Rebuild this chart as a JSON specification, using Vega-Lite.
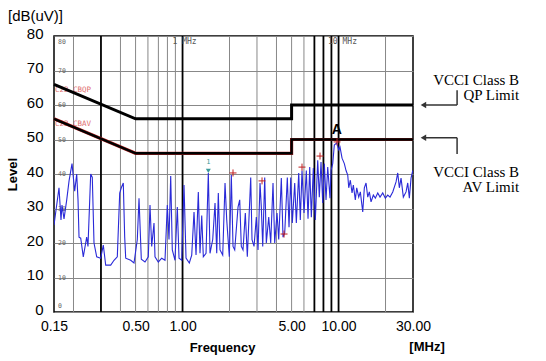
{
  "$schema": "https://vega.github.io/schema/vega-lite/v6.json",
  "width": 359,
  "height": 276,
  "autosize": {"type": "none"},
  "padding": {"left": 54, "top": 36, "right": 133, "bottom": 49},
  "background": "white",
  "title": {"text": "[dB(uV)]", "anchor": "start", "frame": "group", "dx": -46, "offset": 2, "fontSize": 15, "fontWeight": "normal", "font": "Liberation Sans", "color": "black"},
  "config": {"view": {"stroke": "black", "strokeWidth": 1.5}, "font": "Liberation Sans", "axisY": {"labelOverlap": false, "tickCount": 9}},
  "datasets": {
    "vgrid": [{"f": 0.2}, {"f": 0.4}, {"f": 0.5}, {"f": 0.6}, {"f": 0.7}, {"f": 0.8}, {"f": 0.9}, {"f": 2}, {"f": 3}, {"f": 4}, {"f": 5}, {"f": 6}, {"f": 20}],
    "vmark": [{"f": 0.3}, {"f": 1}, {"f": 7}, {"f": 8}, {"f": 9}, {"f": 10}],
    "limits": [
      {"lim": "QP", "i": 1, "f": 0.15, "v": 66}, {"lim": "QP", "i": 2, "f": 0.5, "v": 56}, {"lim": "QP", "i": 3, "f": 5, "v": 56}, {"lim": "QP", "i": 4, "f": 5, "v": 60}, {"lim": "QP", "i": 5, "f": 30, "v": 60},
      {"lim": "AV", "i": 1, "f": 0.15, "v": 56}, {"lim": "AV", "i": 2, "f": 0.5, "v": 46}, {"lim": "AV", "i": 3, "f": 5, "v": 46}, {"lim": "AV", "i": 4, "f": 5, "v": 50}, {"lim": "AV", "i": 5, "f": 30, "v": 50}
    ],
    "trace": [
      {"f": 0.150, "v": 25.2}, {"f": 0.1615, "v": 36}, {"f": 0.1663, "v": 26.7}, {"f": 0.1688, "v": 31}, {"f": 0.1739, "v": 27}, {"f": 0.1810, "v": 32.5}, {"f": 0.1873, "v": 38}, {"f": 0.1957, "v": 43}, {"f": 0.2036, "v": 35}, {"f": 0.2097, "v": 40}, {"f": 0.2138, "v": 32.5}, {"f": 0.2170, "v": 21.7}, {"f": 0.2225, "v": 21.4}, {"f": 0.2311, "v": 16}, {"f": 0.2430, "v": 21.7}, {"f": 0.2477, "v": 19}, {"f": 0.2578, "v": 40}, {"f": 0.2640, "v": 39}, {"f": 0.2707, "v": 20}, {"f": 0.2817, "v": 16}, {"f": 0.2988, "v": 15.6}, {"f": 0.3105, "v": 19.4}, {"f": 0.3217, "v": 13.6}, {"f": 0.3464, "v": 13.6}, {"f": 0.3636, "v": 15}, {"f": 0.3818, "v": 16}, {"f": 0.3956, "v": 34.5}, {"f": 0.4050, "v": 36}, {"f": 0.4171, "v": 37.4}, {"f": 0.4258, "v": 21.7}, {"f": 0.4322, "v": 15.6}, {"f": 0.4653, "v": 15}, {"f": 0.4885, "v": 14.2}, {"f": 0.5129, "v": 21}, {"f": 0.5260, "v": 33}, {"f": 0.5441, "v": 15.3}, {"f": 0.5746, "v": 14.5}, {"f": 0.6033, "v": 16}, {"f": 0.6186, "v": 31}, {"f": 0.6343, "v": 19}, {"f": 0.6562, "v": 25.8}, {"f": 0.6659, "v": 16}, {"f": 0.6993, "v": 14.5}, {"f": 0.7353, "v": 15.6}, {"f": 0.7718, "v": 15}, {"f": 0.7986, "v": 31}, {"f": 0.8189, "v": 21}, {"f": 0.8397, "v": 39.4}, {"f": 0.8597, "v": 18}, {"f": 0.8947, "v": 15}, {"f": 0.9258, "v": 30.4}, {"f": 0.9493, "v": 15.6}, {"f": 0.9879, "v": 15}, {"f": 1.0219, "v": 36.8}, {"f": 1.0527, "v": 15.6}, {"f": 1.1051, "v": 14.2}, {"f": 1.1451, "v": 16.5}, {"f": 1.1845, "v": 29}, {"f": 1.2202, "v": 16.5}, {"f": 1.2622, "v": 34.8}, {"f": 1.2942, "v": 17}, {"f": 1.3272, "v": 28}, {"f": 1.3590, "v": 16}, {"f": 1.4142, "v": 17}, {"f": 1.4629, "v": 40.3}, {"f": 1.5000, "v": 17}, {"f": 1.5610, "v": 21}, {"f": 1.6151, "v": 31.6}, {"f": 1.6561, "v": 17}, {"f": 1.6954, "v": 34.5}, {"f": 1.7385, "v": 18}, {"f": 1.8092, "v": 16.5}, {"f": 1.8720, "v": 37.4}, {"f": 1.9195, "v": 26.7}, {"f": 1.9943, "v": 16}, {"f": 2.0540, "v": 39.7}, {"f": 2.1063, "v": 19}, {"f": 2.1598, "v": 18}, {"f": 2.2677, "v": 30.4}, {"f": 2.3253, "v": 32.5}, {"f": 2.3805, "v": 19}, {"f": 2.4410, "v": 18}, {"f": 2.5256, "v": 28.7}, {"f": 2.6012, "v": 16}, {"f": 2.7353, "v": 39}, {"f": 2.7881, "v": 21}, {"f": 2.8722, "v": 19}, {"f": 2.9711, "v": 27.5}, {"f": 3.0466, "v": 18}, {"f": 3.1377, "v": 37.4}, {"f": 3.1982, "v": 30.4}, {"f": 3.2652, "v": 19}, {"f": 3.3628, "v": 39}, {"f": 3.4435, "v": 20}, {"f": 3.5677, "v": 27.5}, {"f": 3.6743, "v": 20}, {"f": 3.8007, "v": 37.4}, {"f": 3.8972, "v": 20}, {"f": 4.0323, "v": 28.7}, {"f": 4.1347, "v": 21}, {"f": 4.2968, "v": 38.8}, {"f": 4.4055, "v": 21.7}, {"f": 4.5174, "v": 22.9}, {"f": 4.6943, "v": 39}, {"f": 4.8135, "v": 24.6}, {"f": 4.9357, "v": 39}, {"f": 5.0541, "v": 25.8}, {"f": 5.2360, "v": 37.4}, {"f": 5.3617, "v": 25.8}, {"f": 5.5550, "v": 40.3}, {"f": 5.6870, "v": 26.7}, {"f": 5.8315, "v": 41}, {"f": 6.0072, "v": 28.7}, {"f": 6.2139, "v": 41}, {"f": 6.3720, "v": 27}, {"f": 6.5337, "v": 42}, {"f": 6.6904, "v": 27.5}, {"f": 6.8904, "v": 41.7}, {"f": 7.0964, "v": 26.7}, {"f": 7.3527, "v": 44}, {"f": 7.5273, "v": 33.3}, {"f": 7.7185, "v": 43.5}, {"f": 7.9145, "v": 31.6}, {"f": 8.1045, "v": 43}, {"f": 8.3104, "v": 32.5}, {"f": 8.5219, "v": 42}, {"f": 8.8152, "v": 33}, {"f": 8.9462, "v": 41}, {"f": 9.1734, "v": 43}, {"f": 9.3934, "v": 48.4}, {"f": 9.7342, "v": 49}, {"f": 10.025, "v": 47}, {"f": 10.219, "v": 47.8}, {"f": 10.527, "v": 44.6}, {"f": 10.889, "v": 43}, {"f": 11.166, "v": 41}, {"f": 11.450, "v": 39.7}, {"f": 11.620, "v": 36}, {"f": 11.898, "v": 38.2}, {"f": 12.202, "v": 34.5}, {"f": 12.436, "v": 36.8}, {"f": 12.808, "v": 32.5}, {"f": 13.076, "v": 36}, {"f": 13.468, "v": 33.3}, {"f": 13.791, "v": 34.8}, {"f": 14.286, "v": 29}, {"f": 14.629, "v": 36}, {"f": 15.000, "v": 37.4}, {"f": 15.381, "v": 33.3}, {"f": 15.750, "v": 34.8}, {"f": 16.151, "v": 31.9}, {"f": 16.707, "v": 33.9}, {"f": 17.207, "v": 33}, {"f": 17.829, "v": 34.5}, {"f": 18.443, "v": 33.3}, {"f": 19.195, "v": 34.5}, {"f": 19.944, "v": 33}, {"f": 20.665, "v": 33.9}, {"f": 21.376, "v": 33.3}, {"f": 22.250, "v": 34.8}, {"f": 23.357, "v": 37.7}, {"f": 23.951, "v": 40.3}, {"f": 24.525, "v": 36}, {"f": 25.148, "v": 38.8}, {"f": 26.015, "v": 33.3}, {"f": 27.072, "v": 34.8}, {"f": 27.758, "v": 37.4}, {"f": 28.424, "v": 33}, {"f": 29.147, "v": 38.8}, {"f": 29.887, "v": 41}
    ],
    "peaks": [{"f": 2.106, "v": 40.3}, {"f": 3.232, "v": 38}, {"f": 4.472, "v": 22.6}, {"f": 5.83, "v": 42}, {"f": 7.606, "v": 45.2}, {"f": 9.777, "v": 49.3}],
    "lv": [{"f": 0.15, "v": 10}, {"f": 0.15, "v": 20}, {"f": 0.15, "v": 30}, {"f": 0.15, "v": 40}, {"f": 0.15, "v": 50}, {"f": 0.15, "v": 60}, {"f": 0.15, "v": 70}],
    "notes": [
      {"t": "VCCI Class B", "f": 143.6, "v": 67.2}, {"t": "QP Limit", "f": 143.6, "v": 62.9},
      {"t": "VCCI Class B", "f": 143.6, "v": 40.6}, {"t": "AV Limit", "f": 143.6, "v": 36.2}
    ],
    "arrows": [
      {"f": 35, "f2": 57.5, "v": 60, "v2": 60}, {"f": 57.5, "f2": 57.5, "v": 60, "v2": 64.3},
      {"f": 35, "f2": 57.5, "v": 50.5, "v2": 50.5}, {"f": 57.5, "f2": 57.5, "v": 50.5, "v2": 45.8}
    ],
    "heads": [{"f": 35, "v": 60}, {"f": 35, "v": 50.5}]
  },
  "layer": [
    {"data": {"name": "vgrid"}, "mark": {"type": "rule", "color": "#888888", "strokeWidth": 1},
      "encoding": {"x": {"field": "f", "type": "quantitative", "scale": {"type": "log", "domain": [0.15, 30], "nice": false},
        "axis": {"values": [0.15, 0.5, 1, 5, 10, 30], "format": ".2f", "labelFlush": false, "ticks": false, "tickSize": 0, "domain": false, "grid": false, "labelFontSize": 14, "labelColor": "black", "labelPadding": 7, "labelFont": "Liberation Sans",
          "title": "Frequency", "titleFont": "Liberation Sans", "titleFontSize": 13, "titleFontWeight": "bold", "titleColor": "black", "titleX": 168, "titleY": 35, "titleAlign": "center", "titleBaseline": "middle"}}}},
    {"data": {"name": "vmark"}, "mark": {"type": "rule", "color": "black", "strokeWidth": 1.8},
      "encoding": {"x": {"field": "f", "type": "quantitative", "scale": {"type": "log", "domain": [0.15, 30], "nice": false}}}},
    {"data": {"name": "lv"}, "mark": {"type": "text", "align": "left", "baseline": "middle", "dx": 4, "fontSize": 6.5, "font": "DejaVu Sans Mono", "color": "#666666"},
      "encoding": {"x": {"field": "f", "type": "quantitative", "scale": {"type": "log", "domain": [0.15, 30], "nice": false}},
        "y": {"field": "v", "type": "quantitative", "scale": {"domain": [0, 80], "nice": false},
          "axis": {"values": [0, 10, 20, 30, 40, 50, 60, 70, 80], "tickCount": 9, "labelOverlap": false, "ticks": false, "tickSize": 0, "domain": false, "grid": true, "gridColor": "#888888", "gridWidth": 1, "gridOpacity": 1, "labelFontSize": 15, "labelColor": "black", "labelPadding": 11, "labelOffset": -3, "labelFont": "Liberation Sans",
            "title": "Level", "titleFont": "Liberation Sans", "titleFontSize": 13, "titleFontWeight": "bold", "titleColor": "black", "titleX": -42, "titleY": 138, "titleAngle": -90, "titleAlign": "center", "titleBaseline": "middle"}},
        "text": {"field": "v", "type": "quantitative", "format": "d"}}},
    {"data": {"values": [{"f": 0.15, "v": 80, "t": "80"}]}, "mark": {"type": "text", "align": "left", "baseline": "top", "dx": 4, "dy": 3, "fontSize": 6.5, "font": "DejaVu Sans Mono", "color": "#666666"},
      "encoding": {"x": {"field": "f", "type": "quantitative", "scale": {"type": "log", "domain": [0.15, 30], "nice": false}}, "y": {"field": "v", "type": "quantitative", "scale": {"domain": [0, 80], "nice": false}}, "text": {"field": "t"}}},
    {"data": {"values": [{"f": 0.15, "v": 0, "t": "0"}]}, "mark": {"type": "text", "align": "left", "baseline": "bottom", "dx": 4, "dy": -3, "fontSize": 6.5, "font": "DejaVu Sans Mono", "color": "#666666"},
      "encoding": {"x": {"field": "f", "type": "quantitative", "scale": {"type": "log", "domain": [0.15, 30], "nice": false}}, "y": {"field": "v", "type": "quantitative", "scale": {"domain": [0, 80], "nice": false}}, "text": {"field": "t"}}},
    {"data": {"values": [{"f": 1.03, "v": 78.3, "t": "1 MHz"}, {"f": 10.6, "v": 78.3, "t": "10 MHz"}]}, "mark": {"type": "text", "align": "center", "baseline": "middle", "fontSize": 8, "font": "DejaVu Sans Mono", "color": "#555555"},
      "encoding": {"x": {"field": "f", "type": "quantitative", "scale": {"type": "log", "domain": [0.15, 30], "nice": false}}, "y": {"field": "v", "type": "quantitative", "scale": {"domain": [0, 80], "nice": false}}, "text": {"field": "t"}}},
    {"data": {"values": [{"f": 0.152, "v": 64.3, "t": "C22 CBQP"}, {"f": 0.152, "v": 54.5, "t": "C22 CBAV"}]}, "mark": {"type": "text", "align": "left", "baseline": "middle", "fontSize": 7.5, "font": "DejaVu Sans Mono", "color": "#e07070"},
      "encoding": {"x": {"field": "f", "type": "quantitative", "scale": {"type": "log", "domain": [0.15, 30], "nice": false}}, "y": {"field": "v", "type": "quantitative", "scale": {"domain": [0, 80], "nice": false}}, "text": {"field": "t"}}},
    {"data": {"name": "trace"}, "mark": {"type": "line", "color": "#2a2ad8", "strokeWidth": 1.1, "clip": true},
      "encoding": {"x": {"field": "f", "type": "quantitative", "scale": {"type": "log", "domain": [0.15, 30], "nice": false}}, "y": {"field": "v", "type": "quantitative", "scale": {"domain": [0, 80], "nice": false}}}},
    {"data": {"name": "limits"}, "transform": [{"filter": "datum.lim == 'AV'"}], "mark": {"type": "line", "color": "#b22222", "strokeWidth": 3.2},
      "encoding": {"x": {"field": "f", "type": "quantitative", "scale": {"type": "log", "domain": [0.15, 30], "nice": false}}, "y": {"field": "v", "type": "quantitative", "scale": {"domain": [0, 80], "nice": false}}, "order": {"field": "i"}}},
    {"data": {"name": "limits"}, "transform": [{"filter": "datum.lim == 'AV'"}], "mark": {"type": "line", "color": "black", "strokeWidth": 2.4},
      "encoding": {"x": {"field": "f", "type": "quantitative", "scale": {"type": "log", "domain": [0.15, 30], "nice": false}}, "y": {"field": "v", "type": "quantitative", "scale": {"domain": [0, 80], "nice": false}}, "order": {"field": "i"}}},
    {"data": {"name": "limits"}, "transform": [{"filter": "datum.lim == 'QP'"}], "mark": {"type": "line", "color": "black", "strokeWidth": 3},
      "encoding": {"x": {"field": "f", "type": "quantitative", "scale": {"type": "log", "domain": [0.15, 30], "nice": false}}, "y": {"field": "v", "type": "quantitative", "scale": {"domain": [0, 80], "nice": false}}, "order": {"field": "i"}}},
    {"data": {"name": "peaks"}, "mark": {"type": "point", "shape": "M-1,0H1M0,-1V1", "size": 49, "filled": false, "stroke": "#c02020", "strokeWidth": 1, "opacity": 1},
      "encoding": {"x": {"field": "f", "type": "quantitative", "scale": {"type": "log", "domain": [0.15, 30], "nice": false}}, "y": {"field": "v", "type": "quantitative", "scale": {"domain": [0, 80], "nice": false}}}},
    {"data": {"values": [{"f": 1.463, "v": 40.9}]}, "mark": {"type": "point", "shape": "triangle-down", "size": 25, "filled": true, "color": "#3c9a9a", "opacity": 1},
      "encoding": {"x": {"field": "f", "type": "quantitative", "scale": {"type": "log", "domain": [0.15, 30], "nice": false}}, "y": {"field": "v", "type": "quantitative", "scale": {"domain": [0, 80], "nice": false}}}},
    {"data": {"values": [{"f": 1.463, "v": 43.4, "t": "1"}]}, "mark": {"type": "text", "align": "center", "baseline": "middle", "fontSize": 7, "font": "DejaVu Sans Mono", "color": "#3c9a9a"},
      "encoding": {"x": {"field": "f", "type": "quantitative", "scale": {"type": "log", "domain": [0.15, 30], "nice": false}}, "y": {"field": "v", "type": "quantitative", "scale": {"domain": [0, 80], "nice": false}}, "text": {"field": "t"}}},
    {"data": {"values": [{"f": 9.73, "v": 52.8, "t": "A"}]}, "mark": {"type": "text", "align": "center", "baseline": "middle", "fontSize": 14, "fontWeight": "bold", "font": "Liberation Sans", "color": "black"},
      "encoding": {"x": {"field": "f", "type": "quantitative", "scale": {"type": "log", "domain": [0.15, 30], "nice": false}}, "y": {"field": "v", "type": "quantitative", "scale": {"domain": [0, 80], "nice": false}}, "text": {"field": "t"}}},
    {"data": {"values": [{"f": 36.9, "v": -10.1, "t": "[MHz]"}]}, "mark": {"type": "text", "align": "center", "baseline": "middle", "fontSize": 13, "fontWeight": "bold", "font": "Liberation Sans", "color": "black"},
      "encoding": {"x": {"field": "f", "type": "quantitative", "scale": {"type": "log", "domain": [0.15, 30], "nice": false}}, "y": {"field": "v", "type": "quantitative", "scale": {"domain": [0, 80], "nice": false}}, "text": {"field": "t"}}},
    {"data": {"name": "notes"}, "mark": {"type": "text", "align": "right", "baseline": "middle", "fontSize": 15, "font": "Liberation Serif", "color": "black"},
      "encoding": {"x": {"field": "f", "type": "quantitative", "scale": {"type": "log", "domain": [0.15, 30], "nice": false}}, "y": {"field": "v", "type": "quantitative", "scale": {"domain": [0, 80], "nice": false}}, "text": {"field": "t"}}},
    {"data": {"name": "arrows"}, "mark": {"type": "rule", "color": "#333333", "strokeWidth": 1.5},
      "encoding": {"x": {"field": "f", "type": "quantitative", "scale": {"type": "log", "domain": [0.15, 30], "nice": false}}, "y": {"field": "v", "type": "quantitative", "scale": {"domain": [0, 80], "nice": false}}, "x2": {"field": "f2"}, "y2": {"field": "v2"}}},
    {"data": {"name": "heads"}, "mark": {"type": "point", "shape": "triangle-left", "size": 40, "filled": true, "color": "#333333", "opacity": 1},
      "encoding": {"x": {"field": "f", "type": "quantitative", "scale": {"type": "log", "domain": [0.15, 30], "nice": false}}, "y": {"field": "v", "type": "quantitative", "scale": {"domain": [0, 80], "nice": false}}}}
  ]
}
